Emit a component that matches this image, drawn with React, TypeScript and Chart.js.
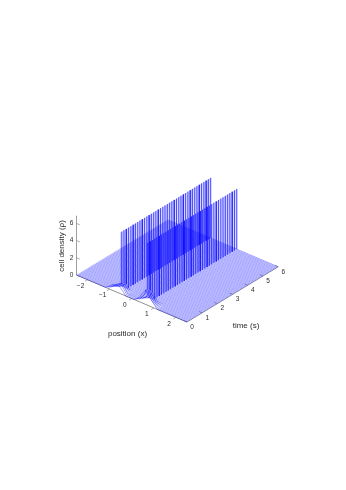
import React, { useEffect, useRef } from "react";
import { Chart, registerables } from "chart.js";

Chart.register(...registerables);

const positionTicks = [-2, -1, 0, 1, 2];
const timeTicks = [0, 1, 2, 3, 4, 5, 6];
const densityTicks = [0, 2, 4, 6];

const times = [
  0, 0.075, 0.15, 0.225, 0.3, 0.375, 0.45, 0.525, 0.6, 0.675, 0.75, 0.825, 0.9, 0.975, 1.05, 1.125, 1.2, 1.275, 1.35, 1.425,
  1.5, 1.575, 1.65, 1.725, 1.8, 1.875, 1.95, 2.025, 2.1, 2.175, 2.25, 2.325, 2.4, 2.475, 2.55, 2.625, 2.7, 2.775, 2.85, 2.925,
  3, 3.075, 3.15, 3.225, 3.3, 3.375, 3.45, 3.525, 3.6, 3.675, 3.75, 3.825, 3.9, 3.975, 4.05, 4.125, 4.2, 4.275, 4.35, 4.425,
  4.5, 4.575, 4.65, 4.725, 4.8, 4.875, 4.95, 5.025, 5.1, 5.175, 5.25, 5.325, 5.4, 5.475, 5.55, 5.625, 5.7, 5.775, 5.85, 5.925, 6,
];
const positions = [-2.5, -1.2, -1.0, -0.85, -0.7, -0.57, -0.56, -0.55, -0.4, -0.28, 0.1, 0.3, 0.5, 0.61, 0.62, 0.63, 0.85, 1.15, 2.5];

const densityT0 = [0, 0, 0.3, 0.75, 0.8, 0.8, 0.8, 0.8, 0.4, 0, 0, 0.35, 1.2, 1.6, 1.7, 1.6, 0.9, 0, 0];
const densityT1 = [0, 0, 0.15, 0.5, 0.8, 1.0, 7, 1.0, 0.5, 0.05, 0, 0.2, 0.9, 1.6, 7, 1.6, 0.6, 0, 0];
const densityT2 = [0, 0, 0.05, 0.25, 0.6, 0.9, 7, 0.9, 0.3, 0, 0, 0.05, 0.5, 1.3, 7, 1.3, 0.3, 0, 0];
const densityT3 = [0, 0, 0, 0.05, 0.3, 0.6, 7, 0.6, 0.1, 0, 0, 0, 0.2, 0.9, 7, 0.9, 0.1, 0, 0];
const densityRidge = [0, 0, 0, 0, 0, 0, 7, 0, 0, 0, 0, 0, 0, 0, 7, 0, 0, 0, 0];
const earlyDensity = [densityT0, densityT1, densityT1, densityT2, densityT2, densityT3, densityT3];

const positionMin = -2.5;
const positionMax = 2.5;
const densityTop = 6.9;

const origin = { x: 76.5, y: 275 };
const perPosition = { x: 22.1, y: 9.4 };
const perTime = { x: 15.2, y: -9.2 };
const perDensity = -8.6;

const project = (p: number, t: number, d: number) => ({
  x: origin.x + (p - positionMin) * perPosition.x + t * perTime.x,
  y: origin.y + (p - positionMin) * perPosition.y + t * perTime.y + d * perDensity,
});

const line = (pts: { x: number; y: number }[], color: string, width: number) => ({
  data: pts,
  showLine: true,
  borderColor: color,
  borderWidth: width,
  pointRadius: 0,
  fill: false,
  tension: 0,
});

const AXIS = "#777777";
const TEXT = "#2a2a2a";
const WASH = "rgba(0,0,255,0.62)";
const RIDGE_TOP = 7;

export default function App() {
  const ref = useRef<HTMLCanvasElement>(null);
  useEffect(() => {
    document.body.style.margin = "0";
    const slices = times.map((t, i) => {
      const profile = earlyDensity[i] ?? densityRidge;
      const strong = i % 2 === 0;
      const isWash = (ctx: any) => profile[ctx.p0DataIndex] !== RIDGE_TOP && profile[ctx.p1DataIndex] !== RIDGE_TOP;
      return {
        ...line(
          positions.map((p, j) => project(p, t, profile[j])),
          strong ? "rgba(0,0,255,0.85)" : "rgba(0,0,255,0.2)",
          strong ? 0.55 : 0.45,
        ),
        segment: {
          borderColor: (ctx: any) => (isWash(ctx) ? WASH : undefined),
          borderWidth: (ctx: any) => (isWash(ctx) ? 0.6 : undefined),
        },
      };
    });
    const axes = [
      line([project(positionMin, 0, 0), project(positionMax, 0, 0)], AXIS, 0.8),
      line([project(positionMax, 0, 0), project(positionMax, 6, 0)], AXIS, 0.7),
      line([project(positionMin, 0, 0), project(positionMin, 0, densityTop)], AXIS, 0.7),
      ...positionTicks.map((p) => line([project(p, 0, 0), project(p, -0.18, 0)], AXIS, 0.6)),
      ...timeTicks.map((t) => line([project(positionMax, t, 0), project(positionMax - 0.14, t, 0)], AXIS, 0.6)),
      ...densityTicks.map((d) => line([project(positionMin, 0, d), project(positionMin + 0.15, 0, d)], AXIS, 0.6)),
    ];
    const labels = {
      id: "axisText",
      afterDatasetsDraw(chart: Chart) {
        const c = chart.ctx;
        const sx = chart.scales.x;
        const sy = chart.scales.y;
        const put = (text: string, x: number, y: number, size: number, rot = 0) => {
          c.save();
          c.translate(sx.getPixelForValue(x), sy.getPixelForValue(y));
          c.rotate(rot);
          c.font = `${size}px "Liberation Sans", Arial, sans-serif`;
          c.fillStyle = TEXT;
          c.textAlign = "center";
          c.textBaseline = "middle";
          c.fillText(text, 0, 0);
          c.restore();
        };
        positionTicks.forEach((p) => {
          const q = project(p, 0, 0);
          put(String(p).replace("-", "−"), q.x - 7, q.y + 6.5, 6.5);
        });
        timeTicks.forEach((t) => {
          const q = project(positionMax, t, 0);
          put(String(t), q.x + 5, q.y + 5, 6.5);
        });
        densityTicks.forEach((d) => {
          const q = project(positionMin, 0, d);
          put(String(d), q.x - 5, q.y, 6.5);
        });
        put("cell density (ρ)", 62, 246, 8, -Math.PI / 2);
        put("position (x)", 127.5, 334, 8);
        put("time (s)", 246, 326, 8);
      },
    };
    const chart = new Chart(ref.current!, {
      type: "scatter",
      data: { datasets: [...slices, ...axes] as any },
      options: {
        animation: false,
        responsive: false,
        layout: { padding: 0 },
        plugins: { legend: { display: false }, tooltip: { enabled: false } },
        scales: {
          x: { type: "linear", display: false, min: 0, max: 346 },
          y: { type: "linear", display: false, min: 0, max: 490, reverse: true },
        },
      },
      plugins: [labels],
    });
    return () => chart.destroy();
  }, []);
  return <canvas ref={ref} width={346} height={490} style={{ display: "block" }} />;
}
